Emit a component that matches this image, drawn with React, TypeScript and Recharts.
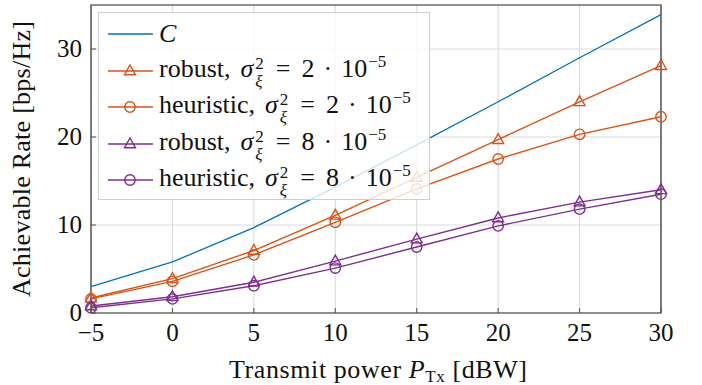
import React from "react";
import {
  LineChart,
  Line,
  XAxis,
  YAxis,
  CartesianGrid,
  ReferenceArea,
} from "recharts";

const power = [-5, 0, 5, 10, 15, 20, 25, 30];
const capacity = [3.0, 5.8, 9.7, 14.3, 19.1, 24.0, 29.0, 33.9];
const robust2 = [1.7, 3.9, 7.1, 11.1, 15.4, 19.7, 24.0, 28.1];
const heuristic2 = [1.6, 3.6, 6.6, 10.3, 14.1, 17.5, 20.3, 22.3];
const robust8 = [0.8, 1.85, 3.5, 5.9, 8.4, 10.8, 12.6, 14.0];
const heuristic8 = [0.6, 1.6, 3.1, 5.1, 7.5, 9.9, 11.8, 13.5];

const yTicks = [0, 10, 20, 30];

const BLUE = "#0072BD";
const ORANGE = "#D95319";
const PURPLE = "#7E2F8E";
const FONT = "Liberation Serif, Times New Roman, serif";

const data = power.map((p, i) => ({
  p,
  c: capacity[i],
  r2: robust2[i],
  h2: heuristic2[i],
  r8: robust8[i],
  h8: heuristic8[i],
}));

const fmt = (v: number) => (v < 0 ? `\u2212${Math.abs(v)}` : `${v}`);

function Triangle(props: any) {
  const { cx, cy, stroke } = props;
  if (cx == null || cy == null) return null;
  return (
    <path
      key={`t-${cx}-${cy}`}
      d={`M${cx},${cy - 6} L${cx + 5.5},${cy + 3.8} L${cx - 5.5},${cy + 3.8} Z`}
      fill="none"
      stroke={stroke}
      strokeWidth={1.4}
    />
  );
}

function Ring(props: any) {
  const { cx, cy, stroke } = props;
  if (cx == null || cy == null) return null;
  return (
    <circle
      key={`c-${cx}-${cy}`}
      cx={cx}
      cy={cy}
      r={5.2}
      fill="none"
      stroke={stroke}
      strokeWidth={1.4}
    />
  );
}

function BottomTick(props: any) {
  const { x, y, payload } = props;
  return (
    <g>
      <line x1={x} y1={y} x2={x} y2={y - 5} stroke="#555" />
      <text x={x} y={y + 28} textAnchor="middle" fontSize={25} fontFamily={FONT} fill="#111">
        {fmt(payload.value)}
      </text>
    </g>
  );
}

function LeftTick(props: any) {
  const { x, y, payload } = props;
  return (
    <g>
      <line x1={x} y1={y} x2={x + 5} y2={y} stroke="#555" />
      <text x={x - 9} y={y + 8} textAnchor="end" fontSize={25} fontFamily={FONT} fill="#111">
        {payload.value}
      </text>
    </g>
  );
}

function TopTick(props: any) {
  const { x, y } = props;
  return <line x1={x} y1={y} x2={x} y2={y + 5} stroke="#555" />;
}

function RightTick(props: any) {
  const { x, y } = props;
  return <line x1={x} y1={y} x2={x - 5} y2={y} stroke="#555" />;
}

function Sigma({ value }: { value: string }) {
  return (
    <>
      <span style={{ fontStyle: "italic", marginLeft: 10 }}>σ</span>
      <span
        style={{
          display: "inline-flex",
          flexDirection: "column",
          fontSize: 17,
          lineHeight: "18px",
          verticalAlign: "middle",
          marginLeft: 2,
          position: "relative",
          top: 2,
        }}
      >
        <span>2</span>
        <span style={{ fontStyle: "italic" }}>ξ</span>
      </span>
      <span style={{ margin: "0 11px 0 12px" }}>=</span>
      <span>{value}</span>
      <span style={{ margin: "0 9px" }}>·</span>
      <span>10</span>
      <span style={{ fontSize: 17, position: "relative", top: -10, marginLeft: 1 }}>−5</span>
    </>
  );
}

const legendRows = [
  { color: BLUE, marker: "none", label: <span style={{ fontStyle: "italic" }}>C</span> },
  { color: ORANGE, marker: "tri", label: <>robust,<Sigma value="2" /></> },
  { color: ORANGE, marker: "circ", label: <>heuristic,<Sigma value="2" /></> },
  { color: PURPLE, marker: "tri", label: <>robust,<Sigma value="8" /></> },
  { color: PURPLE, marker: "circ", label: <>heuristic,<Sigma value="8" /></> },
];

function LegendBox() {
  return (
    <div
      style={{
        position: "absolute",
        left: 98,
        top: 12,
        width: 332,
        height: 188,
        background: "rgba(255,255,255,0.8)",
        border: "1px solid #cfcfcf",
        boxSizing: "border-box",
        fontFamily: FONT,
        fontSize: 26,
        color: "#111",
        paddingTop: 3,
      }}
    >
      {legendRows.map((r, i) => (
        <div key={i} style={{ display: "flex", alignItems: "center", height: 36.5 }}>
          <svg width={60} height={20} style={{ flex: "none" }}>
            <line x1={9} y1={10} x2={54} y2={10} stroke={r.color} strokeWidth={1.4} />
            {r.marker === "tri" && <Triangle cx={31} cy={10} stroke={r.color} />}
            {r.marker === "circ" && <Ring cx={31} cy={10} stroke={r.color} />}
          </svg>
          <span style={{ whiteSpace: "nowrap", lineHeight: "30px" }}>{r.label}</span>
        </div>
      ))}
    </div>
  );
}

export default function App() {
  return (
    <div style={{ position: "absolute", left: 0, top: 0, width: 702, height: 385, background: "#fff" }}>
      <LineChart
        width={702}
        height={385}
        data={data}
        margin={{ top: 5, right: 41, bottom: 0, left: 0 }}
      >
        <CartesianGrid stroke="#dcdcdc" strokeWidth={1.2} />
        <XAxis
          dataKey="p"
          type="number"
          domain={[-5, 30]}
          ticks={power}
          axisLine={false}
          tickLine={false}
          tickSize={0}
          tickMargin={0}
          height={72}
          tick={<BottomTick />}
          interval={0}
          label={{
            value: "Transmit power P_Tx [dBW]",
            content: (p: any) => {
              const vb = p.viewBox || {};
              const cx = vb.x + vb.width / 2;
              return (
                <text
                  x={cx + 2}
                  y={vb.y + 65}
                  textAnchor="middle"
                  fontSize={26}
                  fontFamily={FONT}
                  fill="#111"
                  textLength={298}
                  lengthAdjust="spacing"
                >
                  Transmit power{" "}
                  <tspan fontStyle="italic">P</tspan>
                  <tspan fontSize={17} dy={4}>Tx</tspan>
                  <tspan dy={-4}> [dBW]</tspan>
                </text>
              );
            },
          }}
        />
        <XAxis
          xAxisId="top"
          orientation="top"
          type="number"
          domain={[-5, 30]}
          ticks={power}
          axisLine={false}
          tickLine={false}
          tickSize={0}
          tickMargin={0}
          height={0}
          tick={<TopTick />}
          interval={0}
        />
        <YAxis
          type="number"
          domain={[0, 35]}
          ticks={yTicks}
          axisLine={false}
          tickLine={false}
          tickSize={0}
          tickMargin={0}
          width={91}
          tick={<LeftTick />}
          interval={0}
          label={{
            value: "Achievable Rate [bps/Hz]",
            content: (p: any) => {
              const vb = p.viewBox || {};
              const cy = vb.y + vb.height / 2;
              return (
                <text
                  x={30}
                  y={cy}
                  transform={`rotate(-90 30 ${cy})`}
                  textAnchor="middle"
                  fontSize={26}
                  fontFamily={FONT}
                  fill="#111"
                  textLength={276}
                  lengthAdjust="spacing"
                >
                  Achievable Rate [bps/Hz]
                </text>
              );
            },
          }}
        />
        <YAxis
          yAxisId="right"
          orientation="right"
          type="number"
          domain={[0, 35]}
          ticks={yTicks}
          axisLine={false}
          tickLine={false}
          tickSize={0}
          tickMargin={0}
          width={0}
          tick={<RightTick />}
          interval={0}
        />
        <ReferenceArea x1={-5} x2={30} y1={0} y2={35} fill="none" stroke="#333" strokeWidth={1.2} />
        <Line dataKey="c" stroke={BLUE} strokeWidth={1.3} dot={false} isAnimationActive={false} />
        <Line dataKey="r2" stroke={ORANGE} strokeWidth={1.4} dot={<Triangle />} isAnimationActive={false} />
        <Line dataKey="h2" stroke={ORANGE} strokeWidth={1.4} dot={<Ring />} isAnimationActive={false} />
        <Line dataKey="r8" stroke={PURPLE} strokeWidth={1.4} dot={<Triangle />} isAnimationActive={false} />
        <Line dataKey="h8" stroke={PURPLE} strokeWidth={1.4} dot={<Ring />} isAnimationActive={false} />
      </LineChart>
      <LegendBox />
    </div>
  );
}
